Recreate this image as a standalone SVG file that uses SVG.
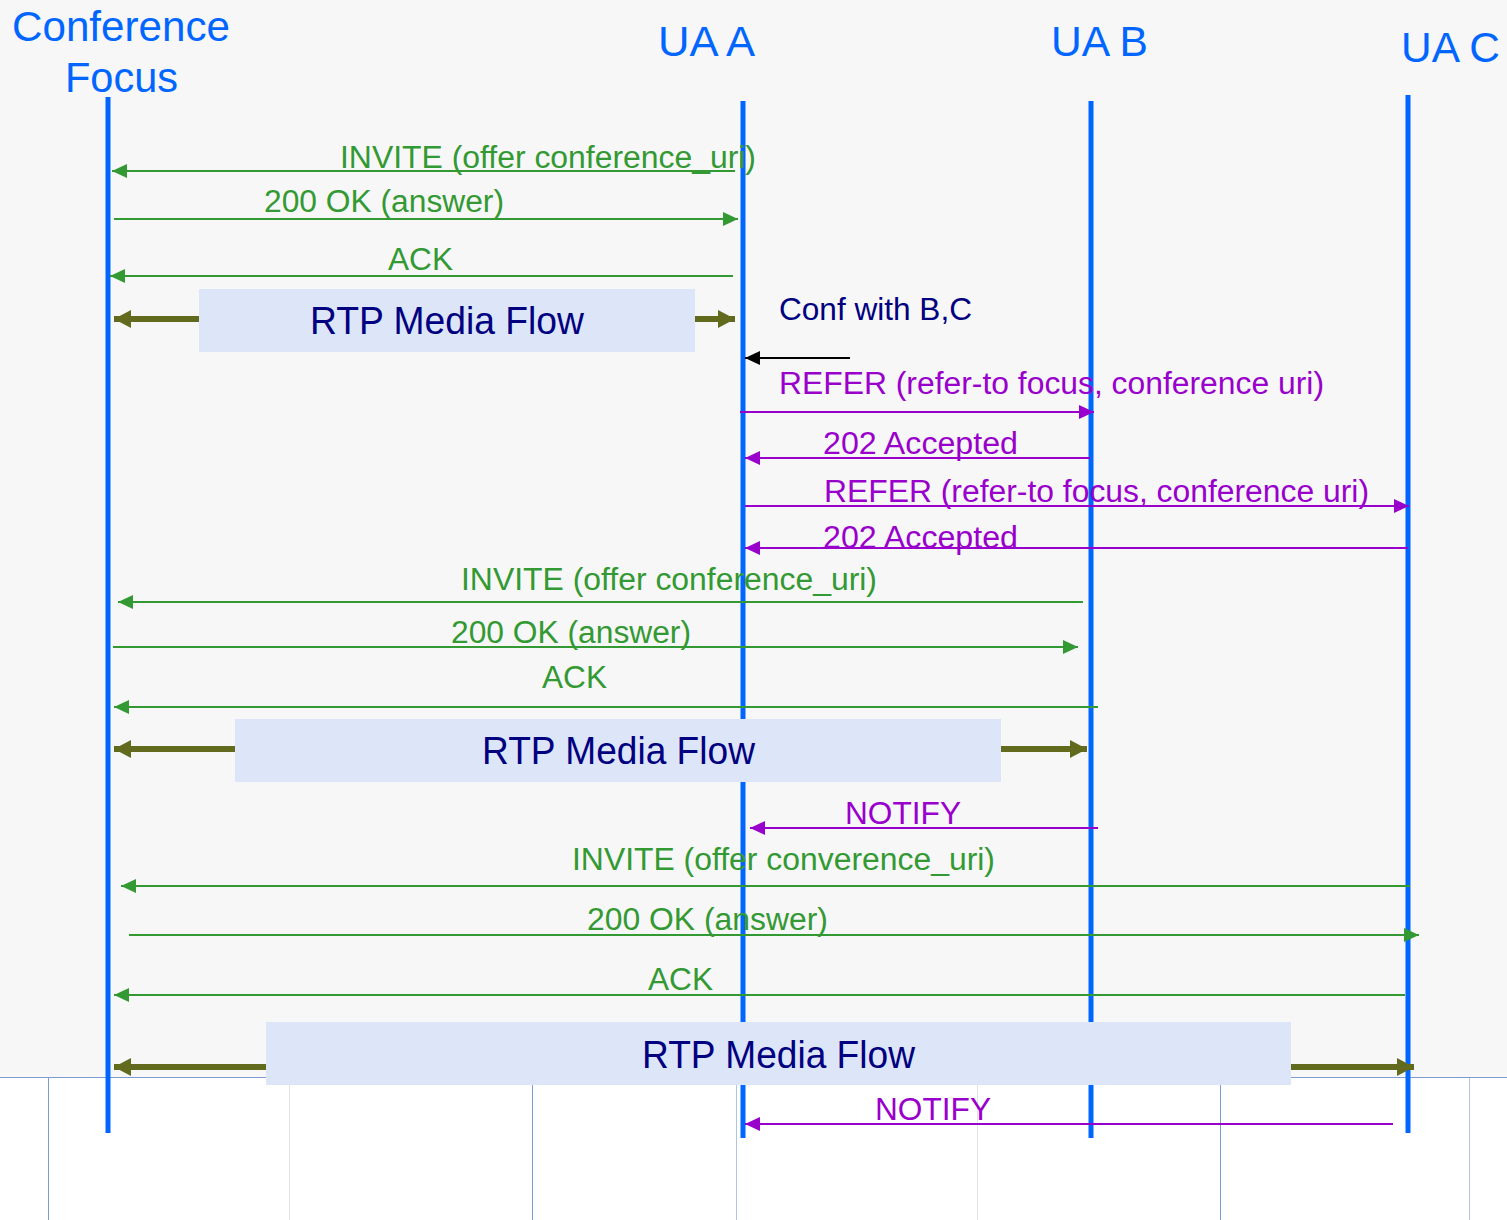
<svg xmlns="http://www.w3.org/2000/svg" width="1507" height="1220" viewBox="0 0 1507 1220">
<style>
text{font-family:"Liberation Sans",Arial,sans-serif}
.hdr{fill:#0066ff;font-size:42px}
.g{fill:#339933;font-size:31px}
.p{fill:#9900cc;font-size:31px}
.n{fill:#000080;font-size:31px}
.rtp{fill:#000080;font-size:38px}
.life{stroke:#0066ff;stroke-width:5}
.ga{stroke:#339933;stroke-width:2;fill:none}
.pa{stroke:#9900cc;stroke-width:2;fill:none}
.oa{stroke:#626a1e;stroke-width:6;fill:none}
.box{fill:#dce6f8}
.gb{stroke:#7b9bd1;stroke-width:1}
.gg{stroke:#e2e2e2;stroke-width:1}
</style>
<defs>
<marker id="mg" markerUnits="userSpaceOnUse" markerWidth="16" markerHeight="14" refX="15" refY="7" orient="auto"><path d="M0,0 L15,7 L0,14 Z" fill="#339933"/></marker>
<marker id="mp" markerUnits="userSpaceOnUse" markerWidth="16" markerHeight="14" refX="15" refY="7" orient="auto"><path d="M0,0 L15,7 L0,14 Z" fill="#9900cc"/></marker>
<marker id="mk" markerUnits="userSpaceOnUse" markerWidth="16" markerHeight="14" refX="15" refY="7" orient="auto"><path d="M0,0 L15,7 L0,14 Z" fill="#000000"/></marker>
<marker id="mo" markerUnits="userSpaceOnUse" markerWidth="18" markerHeight="18" refX="17" refY="9" orient="auto"><path d="M0,0 L17,9 L0,18 Z" fill="#626a1e"/></marker>
</defs>
<rect x="0" y="0" width="1507" height="1220" fill="#ffffff"/>
<rect x="0" y="0" width="1507" height="1077" fill="#f7f7f7"/>
<g id="grid">
<line class="gb" x1="0" y1="1077.5" x2="1507" y2="1077.5"/>
<line class="gb" x1="48.5" y1="1078" x2="48.5" y2="1220"/>
<line class="gg" x1="289.5" y1="1078" x2="289.5" y2="1220"/>
<line class="gb" x1="532.5" y1="1078" x2="532.5" y2="1220"/>
<line class="gb" x1="736.5" y1="1078" x2="736.5" y2="1220" stroke-opacity="0.6"/>
<line class="gg" x1="977.5" y1="1078" x2="977.5" y2="1220"/>
<line class="gb" x1="1220.5" y1="1078" x2="1220.5" y2="1220"/>
<line class="gb" x1="1469.5" y1="1078" x2="1469.5" y2="1220" stroke-opacity="0.6"/>
</g>
<g id="focus">
<text class="hdr" x="12" y="41" textLength="218" lengthAdjust="spacingAndGlyphs">Conference</text>
<text class="hdr" x="65" y="92" textLength="113" lengthAdjust="spacingAndGlyphs">Focus</text>
<line class="life" x1="108" y1="97" x2="108" y2="1133"/>
</g>
<g id="uaa">
<text class="hdr" x="658" y="56" textLength="97" lengthAdjust="spacingAndGlyphs">UA A</text>
<line class="life" x1="743" y1="101" x2="743" y2="1138"/>
</g>
<g id="uab">
<text class="hdr" x="1051" y="56" textLength="97" lengthAdjust="spacingAndGlyphs">UA B</text>
<line class="life" x1="1091" y1="101" x2="1091" y2="1138"/>
</g>
<g id="uac">
<text class="hdr" x="1401" y="62" textLength="99" lengthAdjust="spacingAndGlyphs">UA C</text>
<line class="life" x1="1408" y1="95" x2="1408" y2="1133"/>
</g>
<g id="rtp1">
<rect class="box" x="199" y="289" width="496" height="63"/>
<text class="rtp" x="310" y="334" textLength="274" lengthAdjust="spacingAndGlyphs">RTP Media Flow</text>
</g>
<g id="rtp2">
<rect class="box" x="235" y="719" width="766" height="63"/>
<text class="rtp" x="482" y="764" textLength="273" lengthAdjust="spacingAndGlyphs">RTP Media Flow</text>
</g>
<g id="rtp3">
<rect class="box" x="266" y="1022" width="1025" height="63"/>
<text class="rtp" x="642" y="1068" textLength="273" lengthAdjust="spacingAndGlyphs">RTP Media Flow</text>
</g>
<g id="connectors">
<line class="ga" x1="735" y1="171" x2="112" y2="171" marker-end="url(#mg)"/>
<line class="ga" x1="114" y1="219" x2="738" y2="219" marker-end="url(#mg)"/>
<line class="ga" x1="733" y1="276" x2="110" y2="276" marker-end="url(#mg)"/>
<line class="oa" x1="199" y1="319" x2="114" y2="319" marker-end="url(#mo)"/>
<line class="oa" x1="695" y1="319" x2="735" y2="319" marker-end="url(#mo)"/>
<line stroke="#000000" stroke-width="2" x1="850" y1="358" x2="745" y2="358" marker-end="url(#mk)"/>
<line class="pa" x1="740" y1="412" x2="1094" y2="412" marker-end="url(#mp)"/>
<line class="pa" x1="1090" y1="458" x2="745" y2="458" marker-end="url(#mp)"/>
<line class="pa" x1="745" y1="506" x2="1409" y2="506" marker-end="url(#mp)"/>
<line class="pa" x1="1408" y1="548" x2="745" y2="548" marker-end="url(#mp)"/>
<line class="ga" x1="1083" y1="602" x2="118" y2="602" marker-end="url(#mg)"/>
<line class="ga" x1="113" y1="647" x2="1078" y2="647" marker-end="url(#mg)"/>
<line class="ga" x1="1098" y1="707" x2="114" y2="707" marker-end="url(#mg)"/>
<line class="oa" x1="235" y1="749" x2="114" y2="749" marker-end="url(#mo)"/>
<line class="oa" x1="1001" y1="749" x2="1087" y2="749" marker-end="url(#mo)"/>
<line class="pa" x1="1098" y1="828" x2="750" y2="828" marker-end="url(#mp)"/>
<line class="ga" x1="1410" y1="886" x2="121" y2="886" marker-end="url(#mg)"/>
<line class="ga" x1="129" y1="935" x2="1419" y2="935" marker-end="url(#mg)"/>
<line class="ga" x1="1405" y1="995" x2="114" y2="995" marker-end="url(#mg)"/>
<line class="oa" x1="266" y1="1067" x2="114" y2="1067" marker-end="url(#mo)"/>
<line class="oa" x1="1291" y1="1067" x2="1414" y2="1067" marker-end="url(#mo)"/>
<line class="pa" x1="1393" y1="1124" x2="745" y2="1124" marker-end="url(#mp)"/>
</g>
<g id="labels">
<text class="g" x="340" y="168" textLength="416" lengthAdjust="spacingAndGlyphs">INVITE (offer conference_uri)</text>
<text class="g" x="264" y="212" textLength="240" lengthAdjust="spacingAndGlyphs">200 OK (answer)</text>
<text class="g" x="388" y="270" textLength="65" lengthAdjust="spacingAndGlyphs">ACK</text>
<text class="n" x="779" y="320" textLength="193" lengthAdjust="spacingAndGlyphs">Conf with B,C</text>
<text class="p" x="779" y="394" textLength="545" lengthAdjust="spacingAndGlyphs">REFER (refer-to focus, conference uri)</text>
<text class="p" x="823" y="454" textLength="195" lengthAdjust="spacingAndGlyphs">202 Accepted</text>
<text class="p" x="824" y="502" textLength="545" lengthAdjust="spacingAndGlyphs">REFER (refer-to focus, conference uri)</text>
<text class="p" x="823" y="548" textLength="195" lengthAdjust="spacingAndGlyphs">202 Accepted</text>
<text class="g" x="461" y="590" textLength="416" lengthAdjust="spacingAndGlyphs">INVITE (offer conference_uri)</text>
<text class="g" x="451" y="643" textLength="240" lengthAdjust="spacingAndGlyphs">200 OK (answer)</text>
<text class="g" x="542" y="688" textLength="65" lengthAdjust="spacingAndGlyphs">ACK</text>
<text class="p" x="845" y="824" textLength="116" lengthAdjust="spacingAndGlyphs">NOTIFY</text>
<text class="g" x="572" y="870" textLength="423" lengthAdjust="spacingAndGlyphs">INVITE (offer converence_uri)</text>
<text class="g" x="587" y="930" textLength="241" lengthAdjust="spacingAndGlyphs">200 OK (answer)</text>
<text class="g" x="648" y="990" textLength="65" lengthAdjust="spacingAndGlyphs">ACK</text>
<text class="p" x="875" y="1120" textLength="116" lengthAdjust="spacingAndGlyphs">NOTIFY</text>
</g>
</svg>
